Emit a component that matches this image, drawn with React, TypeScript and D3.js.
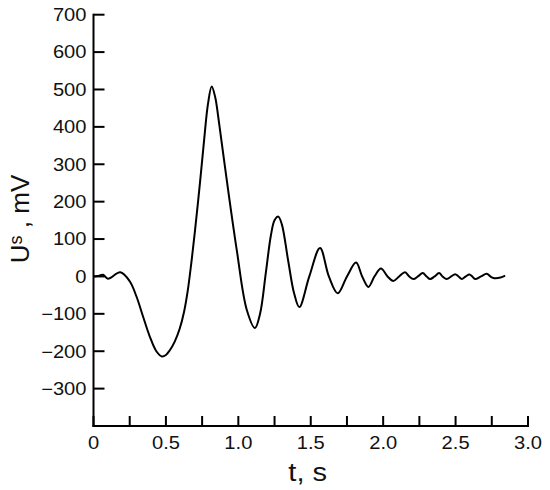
import React from "react";
import * as d3 from "d3";

// time (s) and signal (mV)
const timeValues = [
  0, 0.03, 0.066, 0.1, 0.185, 0.25, 0.296, 0.342, 0.388, 0.434, 0.473, 0.5, 0.526, 0.56, 0.595,
  0.625, 0.65, 0.675, 0.7, 0.735, 0.765, 0.79, 0.816, 0.84, 0.862, 0.92, 0.989, 1.058, 1.115, 1.15,
  1.19, 1.225, 1.25, 1.276, 1.3, 1.345, 1.385, 1.421, 1.49, 1.564, 1.625, 1.686, 1.75, 1.813, 1.855,
  1.898, 1.94, 1.985, 2.03, 2.07, 2.11, 2.151, 2.18, 2.209, 2.24, 2.273, 2.3, 2.324, 2.355, 2.386,
  2.41, 2.439, 2.47, 2.497, 2.52, 2.543, 2.57, 2.595, 2.615, 2.635, 2.675, 2.715, 2.74, 2.761, 2.81,
  2.842,
];
const signalValues = [
  0, 1, 4.5, -6, 11, -13, -53, -107, -160, -200, -214, -210, -198, -175, -140,
  -95, -40, 35, 120, 250, 370, 460, 508, 480, 425, 258, 71, -89, -138, -100,
  10, 110, 150, 160, 140, 40, -45, -82, 0, 76, 0, -45, 0, 37, 0,
  -28, 0, 21, 0, -12, 0, 11, 0, -7, 0, 9, 0, -7, 0, 9,
  0, -7, 0, 6, 0, -7, 0, 5, 0, -7, 0, 7, 0, -4, -3,
  2,
];
const xTickValues = [0, 0.25, 0.5, 0.75, 1, 1.25, 1.5, 1.75, 2, 2.25, 2.5, 2.75, 3];
const xTickLabels = ["0", "0.5", "1.0", "1.5", "2.0", "2.5", "3.0"];
const xLabelValues = [0, 0.5, 1, 1.5, 2, 2.5, 3];
const yTickValues = [-300, -200, -100, 0, 100, 200, 300, 400, 500, 600, 700];

const W = 550;
const H = 490;
const left = 93.5;
const right = 528;
const top = 14.7;
const bottom = 426;

export default function App() {
  const x = d3.scaleLinear().domain([0, 3]).range([left, right]);
  const y = d3.scaleLinear().domain([-400, 700]).range([bottom, top]);
  const pts = timeValues.map((t, i) => [t, signalValues[i]] as [number, number]);
  const line = d3
    .line<[number, number]>()
    .x((d) => x(d[0]))
    .y((d) => y(d[1]))
    .curve(d3.curveCatmullRom.alpha(0.5));
  const font = "'Liberation Sans', Arial, sans-serif";
  const fmt = (v: number) => (v < 0 ? "\u2212" + Math.abs(v) : String(v));

  return (
    <svg
      width={W}
      height={H}
      style={{ position: "absolute", left: 0, top: 0, background: "#fff" }}
      fontFamily={font}
    >
      <rect width={W} height={H} fill="#fff" />
      {/* axes */}
      <line x1={left} x2={left} y1={top - 1} y2={bottom + 1} stroke="#000" strokeWidth={2} />
      <line x1={left - 1} x2={right + 1} y1={bottom} y2={bottom} stroke="#000" strokeWidth={2} />
      {yTickValues.map((v) => (
        <g key={"y" + v}>
          <line x1={left} x2={left + 11} y1={y(v)} y2={y(v)} stroke="#000" strokeWidth={2} />
          <text
            transform={`translate(${left - 7},${y(v) + 6.3}) scale(1.15,1)`}
            textAnchor="end"
            fontSize={17.5}
            fill="#111"
          >
            {fmt(v)}
          </text>
        </g>
      ))}
      {xTickValues.map((v) => (
        <line
          key={"x" + v}
          x1={x(v)}
          x2={x(v)}
          y1={bottom}
          y2={bottom - 10}
          stroke="#000"
          strokeWidth={2}
        />
      ))}
      {xLabelValues.map((v, i) => (
        <text
          key={"xl" + v}
          transform={`translate(${x(v)},${448.5}) scale(1.15,1)`}
          textAnchor="middle"
          fontSize={17.5}
          fill="#111"
        >
          {xTickLabels[i]}
        </text>
      ))}
      <path d={line(pts) || ""} fill="none" stroke="#000" strokeWidth={2} strokeLinejoin="round" />
      {/* axis titles */}
      <text
        transform={`translate(${(left + right) / 2 - 3},${481}) scale(1.12,1)`}
        textAnchor="middle"
        fontSize={26}
        fill="#111"
      >
        t, s
      </text>
      <text
        transform={`translate(29,219) rotate(-90)`}
        textAnchor="middle"
        fontSize={26}
        fill="#111"
      >
        U
        <tspan fontSize={18} dy={-7}>
          s
        </tspan>
        <tspan dy={7}> , mV</tspan>
      </text>
    </svg>
  );
}
